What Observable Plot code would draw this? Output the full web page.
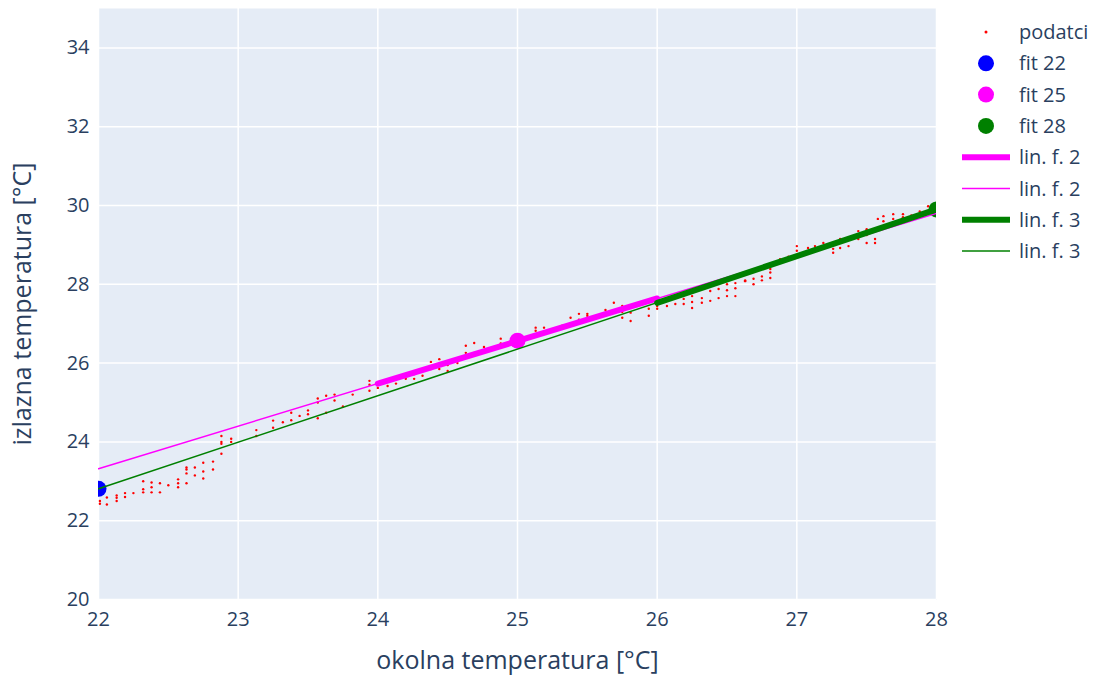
<!DOCTYPE html>
<html>
<head>
<meta charset="utf-8">
<script src="https://cdn.jsdelivr.net/npm/d3@7"></script>
<script src="https://cdn.jsdelivr.net/npm/@observablehq/plot@0.6"></script>
<style>
  html, body { margin: 0; padding: 0; background: #fff; }
  #wrap { position: relative; width: 1099px; height: 678px; font-family: "Open Sans", sans-serif; }
  #chart { position: absolute; left: 0; top: 0; }
  #chart svg { overflow: visible; }
  #legend { position: absolute; left: 945px; top: 0; }
</style>
</head>
<body>
<div id="wrap"><div id="chart"></div><svg id="legend" width="154" height="300"></svg></div>
<script>
// measured data (podatci)
const dataX = [
  22.01,22.01, 22.06,22.06, 22.13,22.13,22.13, 22.19,22.19, 22.25, 22.32,22.32,22.32,
  22.38,22.38,22.38, 22.44,22.44, 22.5, 22.57,22.57,22.57, 22.63,22.63,22.63,22.63,
  22.69,22.69, 22.75,22.75,22.75, 22.82,22.82, 22.88,22.88,22.88,22.88, 22.95,22.95,
  23.13,23.13, 23.25,23.25, 23.32, 23.38,23.38, 23.44, 23.5,23.5, 23.57,23.57,23.57,
  23.63,23.63, 23.69,23.69, 23.75, 23.82, 23.94,23.94,23.94, 24.0,24.0, 24.07,24.07,
  24.13,24.13, 24.2, 24.26,24.26, 24.32,24.32, 24.38,24.38, 24.44,24.44, 24.5,24.5,
  24.57,24.57, 24.63,24.63, 24.69,24.69, 24.76,24.76, 24.82, 24.88,24.88, 24.94, 25.0,
  25.07, 25.13,25.13, 25.19, 25.25, 25.32, 25.38, 25.44,25.44, 25.5,25.5, 25.57, 25.63,
  25.69, 25.75,25.75,25.75, 25.81,25.81, 25.88, 25.94,25.94, 26.0,26.0, 26.07,
  26.13,26.13, 26.19,26.19, 26.25,26.25,26.25, 26.32,26.32, 26.38,26.38, 26.44,26.44,
  26.5,26.5,26.5, 26.56,26.56,26.56, 26.63,26.63, 26.69,26.69, 26.75,26.75,
  26.81,26.81,26.81, 26.88, 26.94, 27.0,27.0, 27.08, 27.13, 27.19,27.19, 27.26,27.26,
  27.31,27.31, 27.37,27.37, 27.44,27.44, 27.5,27.5,27.5, 27.56,27.56, 27.58, 27.62,27.62,
  27.69,27.69, 27.76,27.76, 27.82, 27.88, 27.94
];
const dataY = [
  22.43,22.5, 22.41,22.59, 22.5,22.58,22.64, 22.6,22.7, 22.7, 22.72,22.8,23.0,
  22.72,22.85,22.97, 22.72,22.95, 22.9, 22.85,22.95,23.05, 22.95,23.2,23.3,23.35,
  23.15,23.35, 23.07,23.25,23.47, 23.3,23.5, 23.7,23.95,24.0,24.15, 24.0,24.08,
  24.15,24.3, 24.36,24.54, 24.5, 24.55,24.74, 24.66, 24.7,24.8, 24.6,25.0,25.1,
  24.74,25.17, 25.05,25.2, 24.9, 25.2, 25.3,25.45,25.55, 25.37,25.5, 25.42,25.55,
  25.48,25.6, 25.6, 25.6,25.72, 25.68,25.8, 25.85,26.03, 25.85,26.1, 25.8,25.95,
  26.0,26.1, 26.26,26.44, 26.26,26.51, 26.3,26.41, 26.4, 26.5,26.62, 26.5, 26.55,
  26.65, 26.82,26.9, 26.9, 26.85, 26.95, 27.15, 27.1,27.25, 27.2,27.25, 27.2, 27.35,
  27.53, 27.15,27.3,27.45, 27.07,27.28, 27.5, 27.2,27.38, 27.38,27.45, 27.45,
  27.5,27.7, 27.5,27.63, 27.4,27.55,27.7, 27.53,27.65, 27.58,27.83, 27.65,27.88,
  27.7,27.85,28.0, 27.7,27.9,28.03, 28.08,28.1, 28.0,28.14, 28.1,28.2,
  28.16,28.3,28.39, 28.64, 28.7, 28.85,28.97, 28.92, 28.97, 28.9,29.05, 28.8,28.9,
  28.92,29.15, 28.97,29.18, 29.15,29.35, 29.05,29.25,29.4, 29.05,29.15, 29.66, 29.6,29.73,
  29.66,29.78, 29.7,29.78, 29.75, 29.85, 29.98
];
// fit points
const fitX = [22, 25, 28];
const fitY = [22.81, 26.57, 29.9];
const fitNames = ["fit 22", "fit 25", "fit 28"];
const fitColors = ["#0000ff", "#ff00ff", "#008000"];
// linear fits
const lin2ThickX = [24, 26], lin2ThickY = [25.48, 27.64];
const lin2ThinX = [22, 28], lin2ThinY = [23.32, 29.80];
const lin3ThickX = [26, 28], lin3ThickY = [27.53, 29.90];
const lin3ThinX = [22, 28], lin3ThinY = [22.81, 29.90];
// axes
const xTicks = [22, 23, 24, 25, 26, 27, 28];
const yTicks = [20, 22, 24, 26, 28, 30, 32, 34];
const xTitle = "okolna temperatura [°C]";
const yTitle = "izlazna temperatura [°C]";
const legendLabels = ["podatci", "fit 22", "fit 25", "fit 28", "lin. f. 2", "lin. f. 2", "lin. f. 3", "lin. f. 3"];

const pts = dataX.map((x, i) => ({x, y: dataY[i]}));
const fits = fitX.map((x, i) => ({x, y: fitY[i], name: fitNames[i], color: fitColors[i]}));
const seg = (xs, ys) => xs.map((x, i) => ({x, y: ys[i]}));

const textColor = "#2a3f5f";
const chart = Plot.plot({
  width: 945, height: 678,
  marginLeft: 98, marginRight: 9, marginTop: 8, marginBottom: 79,
  style: {fontFamily: "Open Sans, sans-serif", color: textColor, background: "#fff", overflow: "visible"},
  x: {domain: [22, 28]},
  y: {domain: [20, 35]},
  marks: [
    Plot.frame({fill: "#E5ECF6", stroke: null}),
    Plot.gridX(xTicks, {stroke: "#fff", strokeOpacity: 1, strokeWidth: 1.5}),
    Plot.gridY(yTicks, {stroke: "#fff", strokeOpacity: 1, strokeWidth: 1.5}),
    Plot.axisX(xTicks, {tickSize: 0, tickPadding: 12, fontSize: 20, label: null, fill: textColor, tickFormat: d3.format("d")}),
    Plot.axisY(yTicks, {tickSize: 0, tickPadding: 9, fontSize: 20, label: null, fill: textColor, tickFormat: d3.format("d")}),
    Plot.dot(pts, {x: "x", y: "y", r: 1.2, fill: "red", stroke: null}),
    Plot.dot(fits, {x: "x", y: "y", r: 8, fill: "color", stroke: null, clip: true}),
    Plot.line(seg(lin2ThickX, lin2ThickY), {x: "x", y: "y", stroke: "#ff00ff", strokeWidth: 6, clip: true}),
    Plot.line(seg(lin2ThinX, lin2ThinY), {x: "x", y: "y", stroke: "#ff00ff", strokeWidth: 1.5, clip: true}),
    Plot.line(seg(lin3ThickX, lin3ThickY), {x: "x", y: "y", stroke: "#008000", strokeWidth: 6, clip: true}),
    Plot.line(seg(lin3ThinX, lin3ThinY), {x: "x", y: "y", stroke: "#008000", strokeWidth: 1.5, clip: true}),
    Plot.text([xTitle], {frameAnchor: "bottom", dy: 69, fontSize: 25, fill: textColor}),
    Plot.text([yTitle], {frameAnchor: "left", dx: -76, rotate: -90, textAnchor: "middle", lineAnchor: "middle", fontSize: 25, fill: textColor})
  ]
});
document.getElementById("chart").appendChild(chart);

// legend
const lg = d3.select("#legend");
const rowY = i => 32 + i * 31.3;
const sym = [
  {type: "dot", r: 1.5, color: "red"},
  {type: "dot", r: 8, color: "#0000ff"},
  {type: "dot", r: 8, color: "#ff00ff"},
  {type: "dot", r: 8, color: "#008000"},
  {type: "line", w: 6, color: "#ff00ff"},
  {type: "line", w: 1.5, color: "#ff00ff"},
  {type: "line", w: 6, color: "#008000"},
  {type: "line", w: 1.5, color: "#008000"}
];
legendLabels.forEach((lab, i) => {
  const y = rowY(i), s = sym[i];
  if (s.type === "dot") lg.append("circle").attr("cx", 41).attr("cy", y).attr("r", s.r).attr("fill", s.color);
  else lg.append("line").attr("x1", 17).attr("x2", 65).attr("y1", y).attr("y2", y).attr("stroke", s.color).attr("stroke-width", s.w);
  lg.append("text").attr("x", 74).attr("y", y).attr("dy", "0.35em").attr("fill", textColor)
    .attr("font-size", 20).attr("font-family", "Open Sans, sans-serif").text(lab);
});
</script>
</body>
</html>
